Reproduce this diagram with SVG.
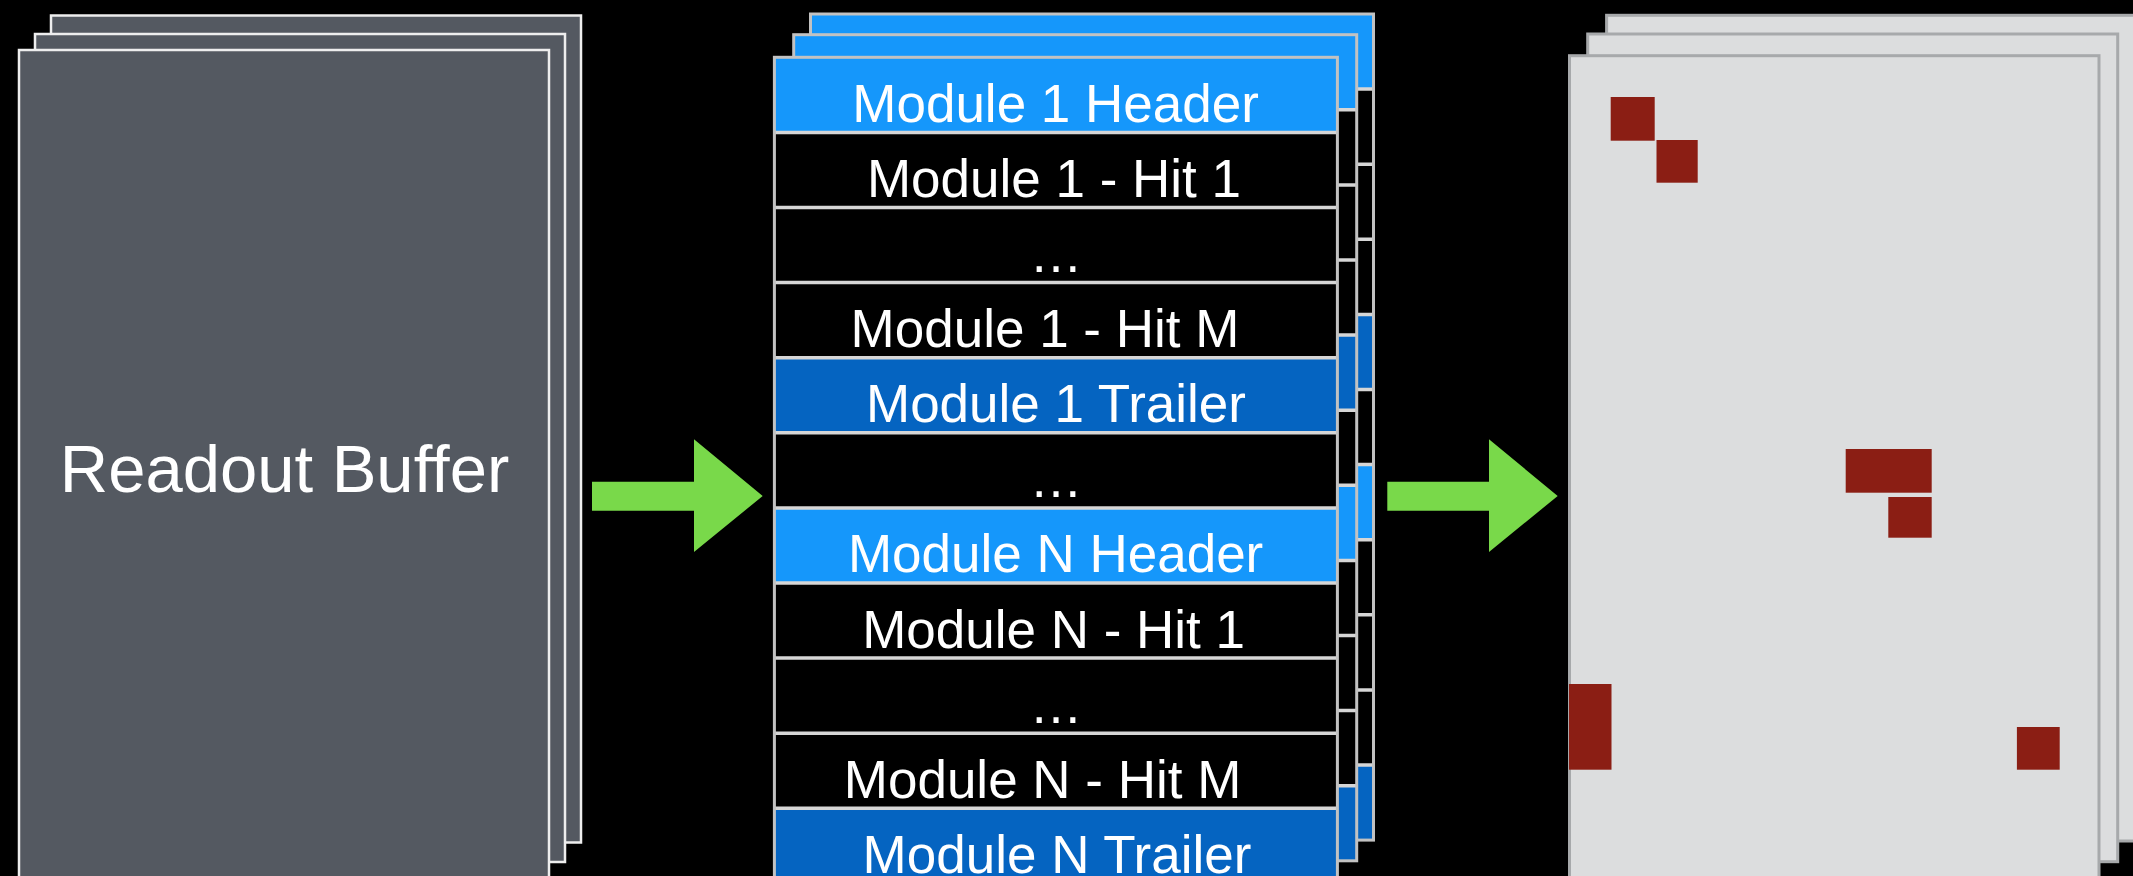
<svg xmlns="http://www.w3.org/2000/svg" xmlns:xlink="http://www.w3.org/1999/xlink" width="2133" height="876" viewBox="0 0 2133 876">
  <style>
    .buf { fill: #545961; stroke: #eeeeee; stroke-width: 2.5; }
    .map { fill: #dcddde; stroke: #a7a9ab; stroke-width: 3; }
    .hit { fill: #8b1e14; }
    .hdr { fill: #1597fb; }
    .trl { fill: #0564c1; }
    .blk { fill: #000000; }
    .div { stroke: #d6d6d6; stroke-width: 3.5; }
    .edge { fill: none; stroke: #c2c2c2; stroke-width: 3; }
    .lbl { font-family: "Liberation Sans", Arial, sans-serif; font-size: 53px; fill: #ffffff; text-anchor: middle; }
    .big { font-family: "Liberation Sans", Arial, sans-serif; font-size: 67px; fill: #ffffff; text-anchor: middle; }
    .arrow { fill: #79d94a; }
  </style>
  <defs>
    <g id="ledger-sheet">
      <rect class="hdr" x="0" y="0" width="563" height="75.1"/>
      <rect class="blk" x="0" y="75.1" width="563" height="225.3"/>
      <rect class="trl" x="0" y="300.4" width="563" height="75.1"/>
      <rect class="blk" x="0" y="375.5" width="563" height="75.1"/>
      <rect class="hdr" x="0" y="450.6" width="563" height="75.1"/>
      <rect class="blk" x="0" y="525.7" width="563" height="225.3"/>
      <rect class="trl" x="0" y="751" width="563" height="75.1"/>
      <g class="div">
        <line x1="0" y1="75.1" x2="563" y2="75.1"/>
        <line x1="0" y1="150.2" x2="563" y2="150.2"/>
        <line x1="0" y1="225.3" x2="563" y2="225.3"/>
        <line x1="0" y1="300.4" x2="563" y2="300.4"/>
        <line x1="0" y1="375.5" x2="563" y2="375.5"/>
        <line x1="0" y1="450.6" x2="563" y2="450.6"/>
        <line x1="0" y1="525.7" x2="563" y2="525.7"/>
        <line x1="0" y1="600.8" x2="563" y2="600.8"/>
        <line x1="0" y1="675.9" x2="563" y2="675.9"/>
        <line x1="0" y1="751" x2="563" y2="751"/>
      </g>
      <rect class="edge" x="0" y="0" width="563" height="826.1"/>
    </g>
  </defs>
  <rect x="0" y="0" width="2133" height="876" fill="#000000"/>

  <g id="readout-buffer">
    <rect class="buf" x="51" y="15.5" width="530" height="827"/>
    <rect class="buf" x="35" y="34" width="530" height="828"/>
    <rect class="buf" x="19" y="50" width="530" height="828"/>
    <text class="big" x="284.5" y="491.7">Readout Buffer</text>
  </g>

  <g id="module-stream">
    <use xlink:href="#ledger-sheet" x="810.5" y="14"/>
    <use xlink:href="#ledger-sheet" x="793.7" y="34.7"/>
    <use xlink:href="#ledger-sheet" x="774.4" y="57.3"/>
    <g id="rows">
      <text class="lbl" x="1055.6" y="121.8">Module 1 Header</text>
      <text class="lbl" x="1054" y="196.9">Module 1 - Hit 1</text>
      <text class="lbl" x="1056" y="272">…</text>
      <text class="lbl" x="1045" y="347.1">Module 1 - Hit M</text>
      <text class="lbl" x="1056" y="422.2">Module 1 Trailer</text>
      <text class="lbl" x="1056" y="497.3">…</text>
      <text class="lbl" x="1055.6" y="572.4">Module N Header</text>
      <text class="lbl" x="1053.6" y="647.5">Module N - Hit 1</text>
      <text class="lbl" x="1056" y="722.6">…</text>
      <text class="lbl" x="1042.6" y="797.7">Module N - Hit M</text>
      <text class="lbl" x="1057" y="872.8">Module N Trailer</text>
    </g>
  </g>

  <g id="hit-map">
    <rect class="map" x="1606.6" y="15.3" width="530" height="825.7"/>
    <rect class="map" x="1587.7" y="34" width="530" height="827.7"/>
    <rect class="map" x="1569.5" y="55.7" width="529.5" height="827"/>
    <rect class="hit" x="1610.7" y="97" width="44" height="43.7"/>
    <rect class="hit" x="1656.5" y="140" width="41.2" height="42.7"/>
    <rect class="hit" x="1845.7" y="449" width="86" height="43.7"/>
    <rect class="hit" x="1888.3" y="497" width="43.4" height="40.7"/>
    <rect class="hit" x="1569" y="684" width="42.5" height="85.7"/>
    <rect class="hit" x="2016.9" y="727" width="42.8" height="42.7"/>
  </g>

  <g id="connectors">
    <polygon class="arrow" points="592,481.7 694,481.7 694,439.3 762.7,496 694,552 694,510.7 592,510.7"/>
    <polygon class="arrow" points="1387.3,481.7 1489,481.7 1489,439.3 1557.7,496 1489,552 1489,510.7 1387.3,510.7"/>
  </g>
</svg>
